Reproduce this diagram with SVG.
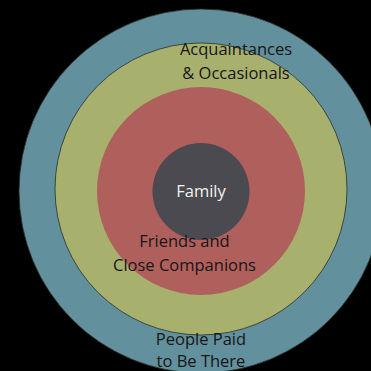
<svg xmlns="http://www.w3.org/2000/svg" width="371" height="371" viewBox="0 0 371 371">
<style>
.ring{stroke:#2a2f2a;stroke-width:0.8}
.t{font-family:"Open Sans",Lato,"Liberation Sans",sans-serif;font-size:16.5px;fill:#161616;text-anchor:middle}
.w{fill:#f2f2f2}
</style>
<rect width="371" height="371" fill="#000"/>
<g id="paid"><circle class="ring" cx="201" cy="191" r="182" fill="#62909c"/></g>
<g id="acquaintances"><circle class="ring" cx="201" cy="189" r="146" fill="#a8b06e"/></g>
<g id="friends"><circle cx="201" cy="191" r="104" fill="#b0605c"/></g>
<g id="family"><circle cx="201" cy="191.5" r="48.5" fill="#4b4a50"/>
<text class="t w" x="201" y="197">Family</text></g>
<g id="labels">
<text class="t" x="236" y="55">Acquaintances</text>
<text class="t" x="236" y="79">&amp; Occasionals</text>
<text class="t" x="184.5" y="247">Friends and</text>
<text class="t" x="184.5" y="271">Close Companions</text>
<text class="t" x="201" y="345">People Paid</text>
<text class="t" x="201" y="367">to Be There</text>
</g>
<g id="connectors"/>
</svg>
